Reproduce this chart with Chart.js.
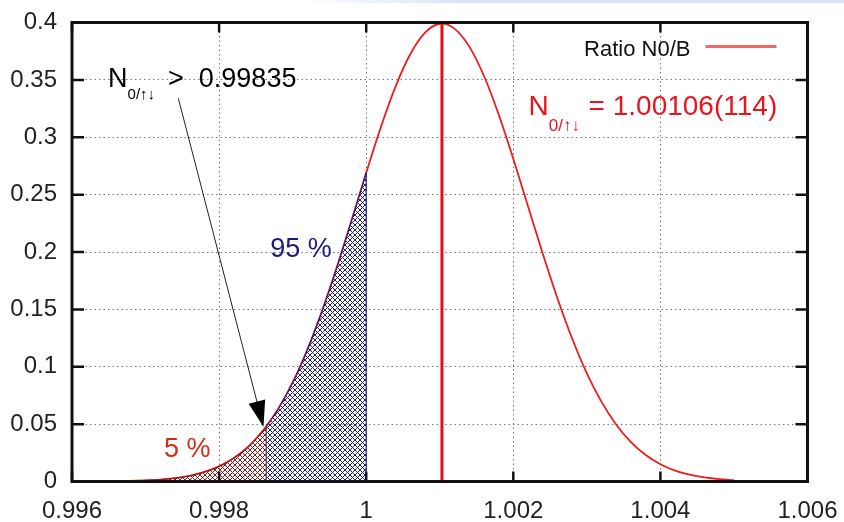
<!DOCTYPE html>
<html>
<head>
<meta charset="utf-8">
<script src="https://cdn.jsdelivr.net/npm/chart.js@4.4.0/dist/chart.umd.min.js"></script>
<style>
  body { margin: 0; background: #fff; }
  #wrap { width: 844px; height: 522px; position: relative; }
</style>
</head>
<body>
<div id="wrap"><canvas id="myChart"></canvas></div>
<script>
// valeurs (x = ratio N0/B, y = densite)
const curveX = [0.9968, 0.9970, 0.9972, 0.9974, 0.9976, 0.9978, 0.9980, 0.9982, 0.9984, 0.9986, 0.99864,
  0.9988, 0.9990, 0.9992, 0.9994, 0.9996, 0.9998, 1.0000, 1.0002, 1.0004, 1.0006, 1.0008, 1.0010, 1.00103,
  1.0012, 1.0014, 1.0016, 1.0018, 1.0020, 1.0022, 1.0024, 1.0026, 1.0028, 1.0030, 1.0032, 1.0034, 1.0036,
  1.0038, 1.0040, 1.0042, 1.0044, 1.0046, 1.0048, 1.0050];
const curveY = [0.0005, 0.0010, 0.0017, 0.0030, 0.0050, 0.0083, 0.0132, 0.0204, 0.0305, 0.0445, 0.0478,
  0.0629, 0.0863, 0.1150, 0.1487, 0.1866, 0.2274, 0.2690, 0.3089, 0.3443, 0.3725, 0.3912, 0.3989, 0.3990,
  0.3947, 0.3792, 0.3536, 0.3201, 0.2813, 0.2399, 0.1987, 0.1597, 0.1246, 0.0943, 0.0694, 0.0495, 0.0343,
  0.0231, 0.0151, 0.0095, 0.0059, 0.0035, 0.0020, 0.0011];

const meanValue = 1.00103;   // ligne verticale rouge
const lowCut = 0.99864;      // limite zone 5 %
const highCut = 1.0;         // limite zone 95 %

const xTickValues = [0.996, 0.998, 1.000, 1.002, 1.004, 1.006];
const xTickLabels = ['0.996', '0.998', '1', '1.002', '1.004', '1.006'];
const yTickValues = [0, 0.05, 0.1, 0.15, 0.2, 0.25, 0.3, 0.35, 0.4];
const yTickLabels = ['0', '0.05', '0.1', '0.15', '0.2', '0.25', '0.3', '0.35', '0.4'];

// points de la courbe
const curve = curveX.map((x, i) => ({x: x, y: curveY[i]}));
const redArea = curve.filter(p => p.x <= lowCut);
const blueArea = curve.filter(p => p.x >= lowCut && p.x <= highCut);
const yLow = curveY[curveX.indexOf(lowCut)];
const yHigh = curveY[curveX.indexOf(highCut)];

// motif hachure croisee
function hatch(color) {
    let c = document.createElement('canvas');
    c.width = 5; c.height = 5;
    let g = c.getContext('2d');
    g.strokeStyle = color;
    g.lineWidth = 1;
    g.beginPath();
    g.moveTo(0, 0); g.lineTo(5, 5);
    g.moveTo(5, 0); g.lineTo(0, 5);
    g.stroke();
    return g.createPattern(c, 'repeat');
}

const FONT = '"Liberation Sans", Arial, sans-serif';

// bande bleue en haut + cadre + graduations interieures + textes
const decor = {
    id: 'decor',
    beforeDraw(chart) {
        let ctx = chart.ctx;
        let grad = ctx.createLinearGradient(300, 0, 844, 0);
        grad.addColorStop(0, 'rgba(215,228,246,0)');
        grad.addColorStop(0.3, 'rgba(215,228,246,1)');
        grad.addColorStop(1, 'rgba(215,228,246,1)');
        ctx.fillStyle = grad;
        ctx.fillRect(300, 0, 544, 3);
    },
    afterDatasetsDraw(chart) {
        let ctx = chart.ctx;
        let a = chart.chartArea;
        let xs = chart.scales.x, ys = chart.scales.y;
        ctx.save();
        // graduations vers l'interieur
        ctx.strokeStyle = '#111';
        ctx.lineWidth = 2.5;
        ctx.beginPath();
        xTickValues.forEach(v => {
            let px = xs.getPixelForValue(v);
            ctx.moveTo(px, a.bottom); ctx.lineTo(px, a.bottom - 10);
            ctx.moveTo(px, a.top); ctx.lineTo(px, a.top + 10);
        });
        yTickValues.forEach(v => {
            let py = ys.getPixelForValue(v);
            ctx.moveTo(a.left, py); ctx.lineTo(a.left + 12, py);
            ctx.moveTo(a.right, py); ctx.lineTo(a.right - 12, py);
        });
        ctx.stroke();
        // cadre
        ctx.lineWidth = 3;
        ctx.strokeRect(a.left, a.top, a.right - a.left, a.bottom - a.top);

        // fleche
        let x0 = xs.getPixelForValue(0.997446), y0 = ys.getPixelForValue(0.3339);
        let x1 = xs.getPixelForValue(0.998603), y1 = ys.getPixelForValue(0.04776);
        let ang = Math.atan2(y1 - y0, x1 - x0);
        ctx.strokeStyle = '#222';
        ctx.lineWidth = 1;
        ctx.beginPath();
        ctx.moveTo(x0, y0);
        ctx.lineTo(x1 - 22 * Math.cos(ang), y1 - 22 * Math.sin(ang));
        ctx.stroke();
        ctx.fillStyle = '#000';
        ctx.beginPath();
        ctx.moveTo(x1, y1);
        ctx.lineTo(x1 - 26 * Math.cos(ang) + 8.5 * Math.sin(ang), y1 - 26 * Math.sin(ang) - 8.5 * Math.cos(ang));
        ctx.lineTo(x1 - 26 * Math.cos(ang) - 8.5 * Math.sin(ang), y1 - 26 * Math.sin(ang) + 8.5 * Math.cos(ang));
        ctx.closePath();
        ctx.fill();

        // N_{0/↑↓} > 0.99835
        let bx = xs.getPixelForValue(0.99649), by = ys.getPixelForValue(0.3438);
        ctx.textBaseline = 'alphabetic';
        ctx.textAlign = 'left';
        ctx.fillStyle = '#000';
        ctx.font = '27px ' + FONT;
        ctx.fillText('N', bx, by);
        let w = ctx.measureText('N').width;
        ctx.font = '15px ' + FONT;
        ctx.fillText('0/\u2191\u2193', bx + w, by + 12);
        ctx.font = '27px ' + FONT;
        ctx.fillText('>  0.99835', bx + 60, by);

        // N_{0/↑↓} = 1.00106(114)
        let rx = xs.getPixelForValue(1.002208), ry = ys.getPixelForValue(0.3194);
        ctx.fillStyle = '#e8141e';
        ctx.font = '28px ' + FONT;
        ctx.fillText('N', rx, ry);
        w = ctx.measureText('N').width;
        ctx.font = '17px ' + FONT;
        ctx.fillText('0/\u2191\u2193', rx + w, ry + 16);
        ctx.font = '28px ' + FONT;
        ctx.fillText('= 1.00106(114)', rx + 60, ry);

        // pourcentages
        ctx.font = '27px ' + FONT;
        ctx.fillStyle = '#1c1c78';
        ctx.fillText('95 %', xs.getPixelForValue(0.998694), ys.getPixelForValue(0.1959));
        ctx.fillStyle = '#d42c12';
        ctx.fillText('5 %', xs.getPixelForValue(0.997252), ys.getPixelForValue(0.02135));

        // legende
        ctx.font = '22px ' + FONT;
        ctx.fillStyle = '#111';
        ctx.textAlign = 'right';
        ctx.fillText('Ratio N0/B', a.right - 117, a.top + 33);
        ctx.strokeStyle = '#f06a6a';
        ctx.lineWidth = 3;
        ctx.beginPath();
        ctx.moveTo(a.right - 102, a.top + 24);
        ctx.lineTo(a.right - 31, a.top + 24);
        ctx.stroke();
        ctx.restore();
    }
};

var ctx = document.getElementById('myChart').getContext('2d');
var myChart = new Chart(ctx, {
    type: 'line',
    data: {
        datasets: [{
            // zone 5 %
            data: redArea,
            fill: 'origin',
            backgroundColor: hatch('#8a1c1c'),
            borderColor: '#8a1c1c',
            borderWidth: 1,
            pointRadius: 0,
            cubicInterpolationMode: 'monotone'
        }, {
            // zone 95 %
            data: blueArea,
            fill: 'origin',
            backgroundColor: hatch('#1c2080'),
            borderColor: '#1c2080',
            borderWidth: 1,
            pointRadius: 0,
            cubicInterpolationMode: 'monotone'
        }, {
            data: [{x: lowCut, y: 0}, {x: lowCut, y: yLow}],
            borderColor: '#3a2030',
            borderWidth: 1,
            pointRadius: 0,
            fill: false
        }, {
            data: [{x: highCut, y: 0}, {x: highCut, y: yHigh}],
            borderColor: '#1c2080',
            borderWidth: 1.2,
            pointRadius: 0,
            fill: false
        }, {
            // Ratio N0/B
            label: 'Ratio N0/B',
            data: curve,
            borderColor: '#ee1c1c',
            borderWidth: 1.8,
            pointRadius: 0,
            fill: false,
            cubicInterpolationMode: 'monotone'
        }, {
            data: [{x: meanValue, y: 0}, {x: meanValue, y: 0.4}],
            borderColor: '#e60d0d',
            borderWidth: 3,
            pointRadius: 0,
            fill: false
        }]
    },
    options: {
        responsive: true,
        maintainAspectRatio: false,
        animation: false,
        events: [],
        layout: { padding: { top: 22.5, right: 36.5, left: 0, bottom: 0 } },
        plugins: {
            legend: { display: false },
            tooltip: { enabled: false }
        },
        scales: {
            x: {
                type: 'linear',
                min: 0.996,
                max: 1.006,
                afterBuildTicks: scale => { scale.ticks = xTickValues.map(v => ({value: v})); },
                afterFit: scale => { scale.height = 40.5; scale.paddingLeft = 0; scale.paddingRight = 0; },
                grid: { color: '#777', lineWidth: 1, drawTicks: false },
                border: { display: false, dash: [1.5, 3] },
                ticks: {
                    padding: 15,
                    maxRotation: 0,
                    color: '#222',
                    font: { family: FONT, size: 24 },
                    callback: (v, i) => xTickLabels[i]
                }
            },
            y: {
                min: 0,
                max: 0.4,
                afterBuildTicks: scale => { scale.ticks = yTickValues.map(v => ({value: v})); },
                afterFit: scale => { scale.width = 72; scale.paddingTop = 0; scale.paddingBottom = 0; },
                grid: { color: '#777', lineWidth: 1, drawTicks: false },
                border: { display: false, dash: [1.5, 3] },
                ticks: {
                    padding: 15,
                    color: '#222',
                    font: { family: FONT, size: 24 },
                    callback: (v, i) => yTickLabels[i]
                }
            }
        }
    },
    plugins: [decor]
});
</script>
</body>
</html>
